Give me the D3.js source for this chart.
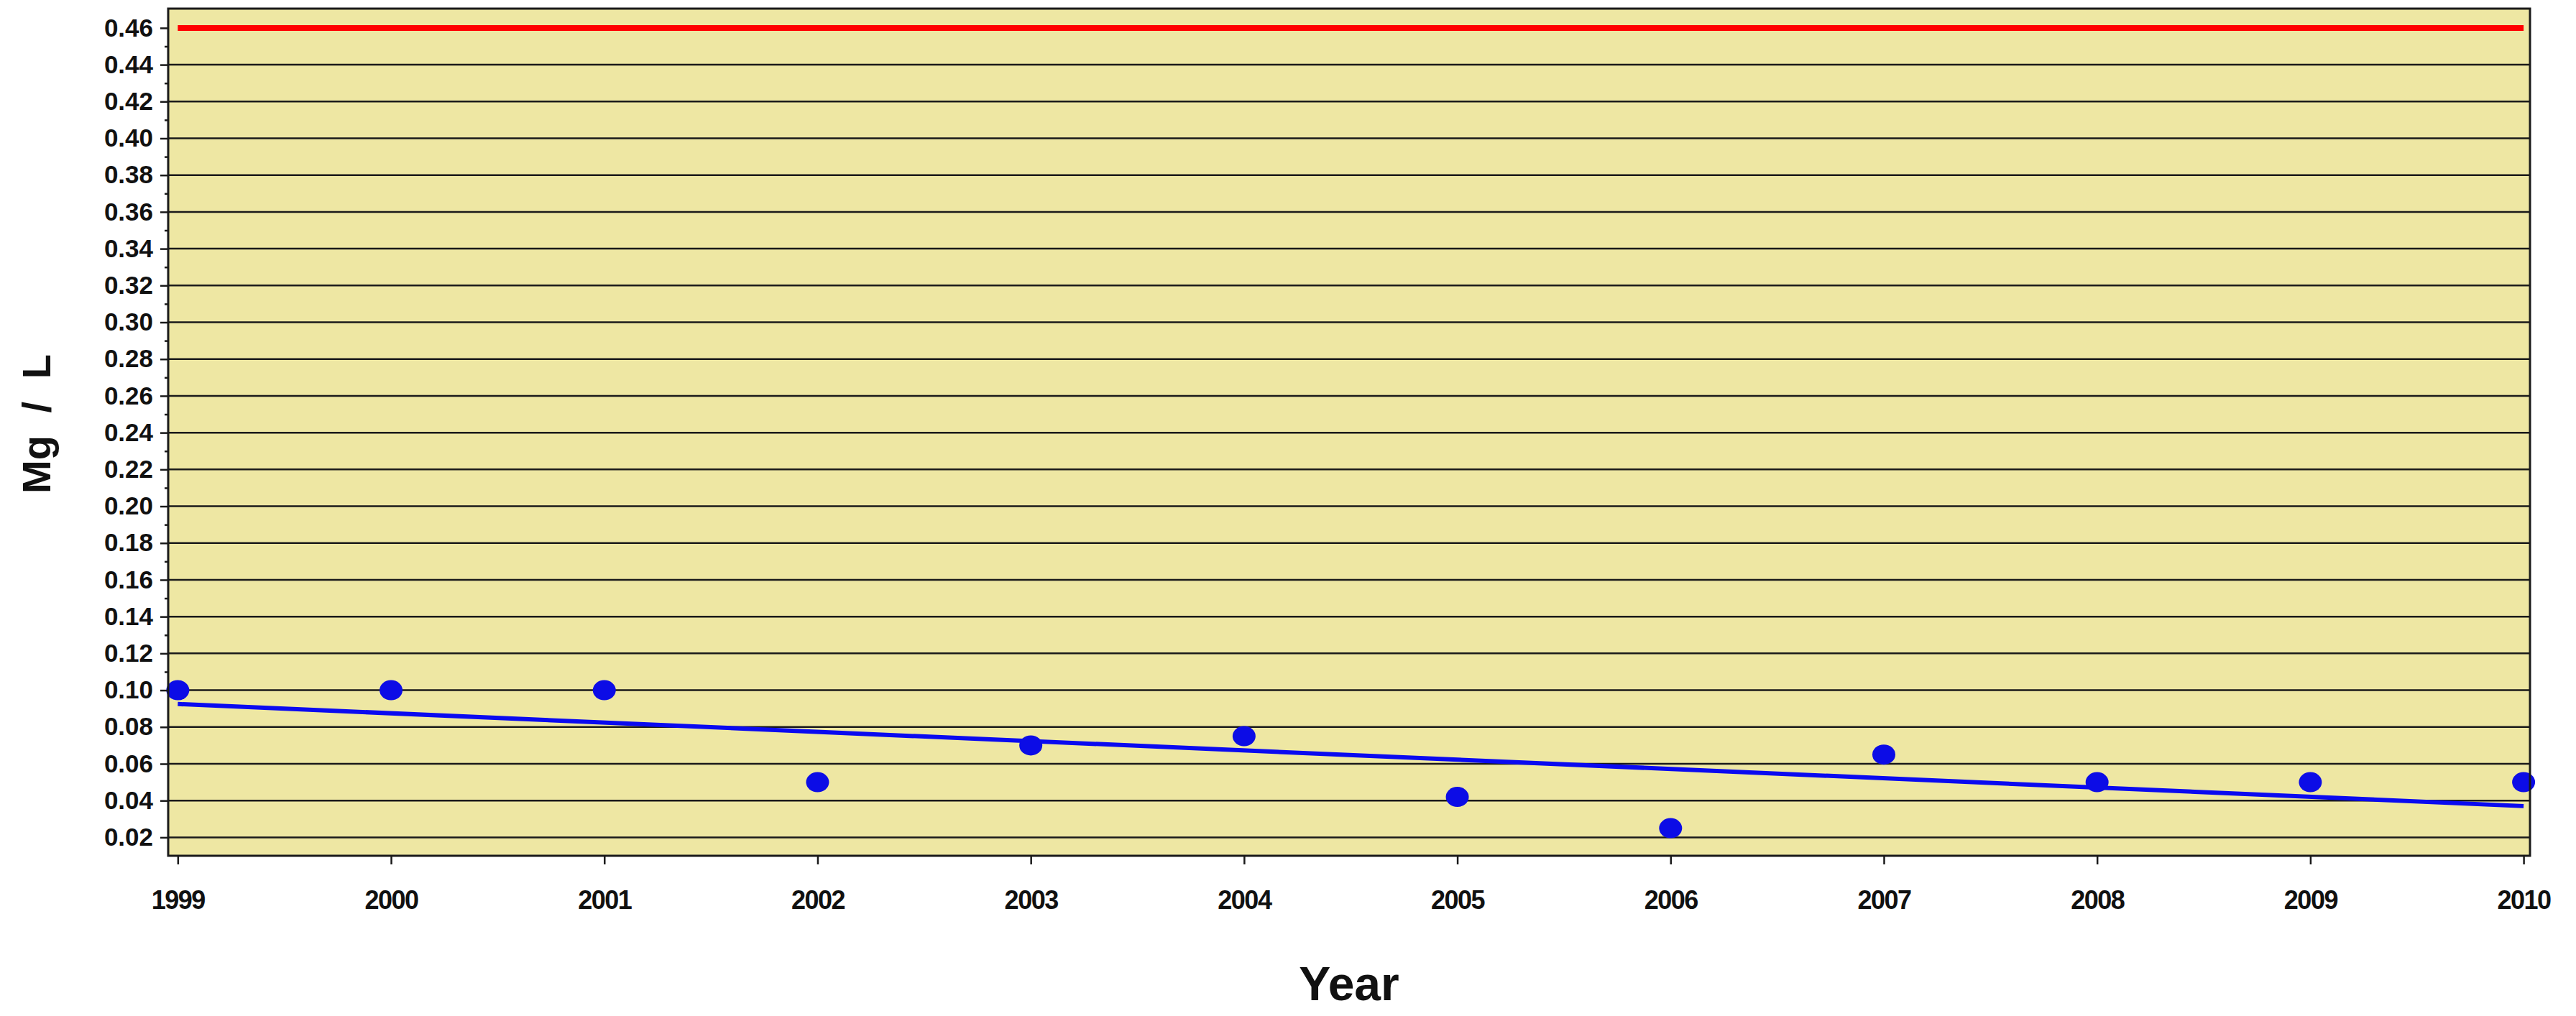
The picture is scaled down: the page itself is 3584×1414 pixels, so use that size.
<!DOCTYPE html>
<html>
<head>
<meta charset="utf-8">
<script src="https://cdn.jsdelivr.net/npm/d3@7"></script>
<style>
  html, body { margin: 0; padding: 0; background: #fff; }
  svg { display: block; font-family: "Liberation Sans", Arial, Helvetica, sans-serif; }
</style>
</head>
<body>
<div id="chart"></div>
<script>
// data
const years = [1999, 2000, 2001, 2002, 2003, 2004, 2005, 2006, 2007, 2008, 2009, 2010];
const values = [0.10, 0.10, 0.10, 0.05, 0.07, 0.075, 0.042, 0.025, 0.065, 0.05, 0.05, 0.05];
const limitValue = 0.46;
const yTickValues = [0.02, 0.04, 0.06, 0.08, 0.10, 0.12, 0.14, 0.16, 0.18, 0.20, 0.22,
  0.24, 0.26, 0.28, 0.30, 0.32, 0.34, 0.36, 0.38, 0.40, 0.42, 0.44, 0.46];
const yMinorTicks = d3.range(11, 47, 2).map((d) => d / 100);

const W = 3584, H = 1414;
const margin = { top: 12, right: 64, bottom: 223, left: 234 };
const width = W - margin.left - margin.right;
const height = H - margin.top - margin.bottom;

const svg = d3.select('#chart').append('svg')
  .attr('width', W)
  .attr('height', H);

const g = svg.append('g')
  .attr('transform', `translate(${margin.left},${margin.top})`);

const x = d3.scaleLinear().domain([1998.955, 2010.03]).range([0, width]);
const y = d3.scaleLinear().domain([0.01, 0.4705]).range([height, 0]);

// plot background
g.append('rect')
  .attr('width', width)
  .attr('height', height)
  .attr('fill', '#eee7a3');

// horizontal grid lines
g.selectAll('.grid')
  .data(yTickValues.filter((d) => d < limitValue))
  .enter()
  .append('line')
  .attr('class', 'grid')
  .attr('x1', 0)
  .attr('x2', width)
  .attr('y1', (d) => y(d))
  .attr('y2', (d) => y(d))
  .attr('stroke', '#1a1a1a')
  .attr('stroke-width', 2.5);

// limit line
const line = d3.line().x((d) => x(d[0])).y((d) => y(d[1]));
g.append('path')
  .datum(years.map((yr) => [yr, limitValue]))
  .attr('fill', 'none')
  .attr('stroke', '#ff0000')
  .attr('stroke-width', 8)
  .attr('d', line);

// linear trend (least squares on the points)
const xm = d3.mean(years), ym = d3.mean(values);
const slope = d3.sum(years, (d, i) => (d - xm) * (values[i] - ym)) /
  d3.sum(years, (d) => (d - xm) * (d - xm));
const trend = [years[0], years[years.length - 1]].map((d) => [d, ym + slope * (d - xm)]);
g.append('path')
  .datum(trend)
  .attr('fill', 'none')
  .attr('stroke', '#0a0af0')
  .attr('stroke-width', 6)
  .attr('d', line);

// points
g.selectAll('.dot')
  .data(years)
  .enter()
  .append('ellipse')
  .attr('class', 'dot')
  .attr('cx', (d) => x(d))
  .attr('cy', (d, i) => y(values[i]))
  .attr('rx', 16)
  .attr('ry', 14)
  .attr('fill', '#0c0ce6');

// frame
g.append('rect')
  .attr('width', width)
  .attr('height', height)
  .attr('fill', 'none')
  .attr('stroke', '#1a1a1a')
  .attr('stroke-width', 3);

// y axis
const yAxis = g.append('g')
  .call(d3.axisLeft(y).tickValues(yTickValues).tickFormat(d3.format('.2f'))
    .tickSize(11).tickPadding(10));
yAxis.select('.domain').remove();
yAxis.selectAll('.tick line').attr('stroke', '#1a1a1a').attr('stroke-width', 2.5);
yAxis.selectAll('text')
  .style('font-size', '35px')
  .style('font-weight', 'bold')
  .style('fill', '#111');

g.append('g')
  .call(d3.axisLeft(y).tickValues(yMinorTicks).tickFormat('').tickSize(5))
  .call((a) => a.select('.domain').remove())
  .selectAll('.tick line').attr('stroke', '#1a1a1a').attr('stroke-width', 2.5);

// x axis
const xAxis = g.append('g')
  .attr('transform', `translate(0,${height})`)
  .call(d3.axisBottom(x).tickValues(years).tickFormat(d3.format('d'))
    .tickSize(12).tickPadding(36));
xAxis.select('.domain').remove();
xAxis.selectAll('.tick line').attr('stroke', '#1a1a1a').attr('stroke-width', 2.5);
xAxis.selectAll('text')
  .style('font-size', '36px')
  .style('font-weight', 'bold')
  .style('letter-spacing', '-1.5px')
  .style('fill', '#111');

// axis titles
svg.append('text')
  .attr('x', margin.left + width / 2)
  .attr('y', 1392)
  .attr('text-anchor', 'middle')
  .style('font-size', '66px')
  .style('font-weight', 'bold')
  .style('fill', '#111')
  .text('Year');

svg.append('text')
  .attr('transform', `translate(70,590) rotate(-90)`)
  .attr('text-anchor', 'middle')
  .style('font-size', '56px')
  .style('font-weight', 'bold')
  .style('word-spacing', '16px')
  .style('fill', '#111')
  .text('Mg / L');
</script>
</body>
</html>
